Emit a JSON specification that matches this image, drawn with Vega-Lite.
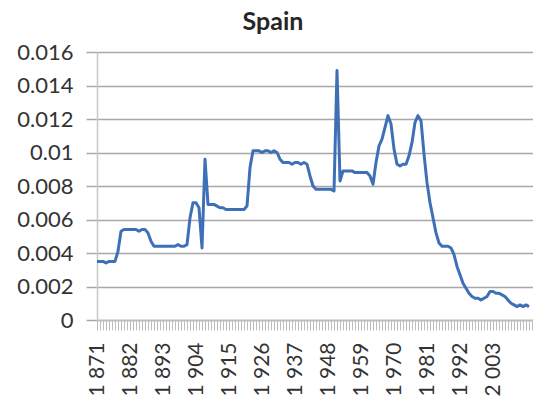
{
  "$schema": "https://vega.github.io/schema/vega-lite/v6.json",
  "width": 436,
  "height": 268,
  "autosize": {"type": "none"},
  "padding": {"left": 97, "top": 52, "right": 0, "bottom": 92},
  "background": "white",
  "title": {
    "text": "Spain",
    "font": "Lato",
    "fontSize": 25,
    "fontWeight": "bold",
    "color": "#262626",
    "anchor": "middle",
    "dx": -42,
    "offset": 6
  },
  "config": {
    "view": {"stroke": null},
    "axis": {"labelFont": "Lato", "labelColor": "#333333"}
  },
  "data": {
    "values": [
      {"year": 1871, "v": 0.0035}, {"year": 1872, "v": 0.0035}, {"year": 1873, "v": 0.0035},
      {"year": 1874, "v": 0.0034}, {"year": 1875, "v": 0.0035}, {"year": 1876, "v": 0.0035},
      {"year": 1877, "v": 0.0035}, {"year": 1878, "v": 0.0041}, {"year": 1879, "v": 0.0053},
      {"year": 1880, "v": 0.0054}, {"year": 1881, "v": 0.0054}, {"year": 1882, "v": 0.0054},
      {"year": 1883, "v": 0.0054}, {"year": 1884, "v": 0.0054}, {"year": 1885, "v": 0.0053},
      {"year": 1886, "v": 0.0054}, {"year": 1887, "v": 0.0054}, {"year": 1888, "v": 0.0052},
      {"year": 1889, "v": 0.0047}, {"year": 1890, "v": 0.0044}, {"year": 1891, "v": 0.0044},
      {"year": 1892, "v": 0.0044}, {"year": 1893, "v": 0.0044}, {"year": 1894, "v": 0.0044},
      {"year": 1895, "v": 0.0044}, {"year": 1896, "v": 0.0044}, {"year": 1897, "v": 0.0044},
      {"year": 1898, "v": 0.0045}, {"year": 1899, "v": 0.0044}, {"year": 1900, "v": 0.0044},
      {"year": 1901, "v": 0.0045}, {"year": 1902, "v": 0.0061}, {"year": 1903, "v": 0.0070},
      {"year": 1904, "v": 0.0070}, {"year": 1905, "v": 0.0067}, {"year": 1906, "v": 0.0043},
      {"year": 1907, "v": 0.0096}, {"year": 1908, "v": 0.0069}, {"year": 1909, "v": 0.0069},
      {"year": 1910, "v": 0.0069}, {"year": 1911, "v": 0.0068}, {"year": 1912, "v": 0.0067},
      {"year": 1913, "v": 0.0067}, {"year": 1914, "v": 0.0066}, {"year": 1915, "v": 0.0066},
      {"year": 1916, "v": 0.0066}, {"year": 1917, "v": 0.0066}, {"year": 1918, "v": 0.0066},
      {"year": 1919, "v": 0.0066}, {"year": 1920, "v": 0.0066}, {"year": 1921, "v": 0.0068},
      {"year": 1922, "v": 0.0091}, {"year": 1923, "v": 0.0101}, {"year": 1924, "v": 0.0101},
      {"year": 1925, "v": 0.0101}, {"year": 1926, "v": 0.0100}, {"year": 1927, "v": 0.0101},
      {"year": 1928, "v": 0.0101}, {"year": 1929, "v": 0.0100}, {"year": 1930, "v": 0.0101},
      {"year": 1931, "v": 0.0100}, {"year": 1932, "v": 0.0096}, {"year": 1933, "v": 0.0094},
      {"year": 1934, "v": 0.0094}, {"year": 1935, "v": 0.0094}, {"year": 1936, "v": 0.0093},
      {"year": 1937, "v": 0.0094}, {"year": 1938, "v": 0.0094}, {"year": 1939, "v": 0.0093},
      {"year": 1940, "v": 0.0094}, {"year": 1941, "v": 0.0093}, {"year": 1942, "v": 0.0086},
      {"year": 1943, "v": 0.0080}, {"year": 1944, "v": 0.0078}, {"year": 1945, "v": 0.0078},
      {"year": 1946, "v": 0.0078}, {"year": 1947, "v": 0.0078}, {"year": 1948, "v": 0.0078},
      {"year": 1949, "v": 0.0078}, {"year": 1950, "v": 0.0077}, {"year": 1951, "v": 0.0149},
      {"year": 1952, "v": 0.0083}, {"year": 1953, "v": 0.0089}, {"year": 1954, "v": 0.0089},
      {"year": 1955, "v": 0.0089}, {"year": 1956, "v": 0.0089}, {"year": 1957, "v": 0.0088},
      {"year": 1958, "v": 0.0088}, {"year": 1959, "v": 0.0088}, {"year": 1960, "v": 0.0088},
      {"year": 1961, "v": 0.0088}, {"year": 1962, "v": 0.0086}, {"year": 1963, "v": 0.0081},
      {"year": 1964, "v": 0.0094}, {"year": 1965, "v": 0.0104}, {"year": 1966, "v": 0.0108},
      {"year": 1967, "v": 0.0115}, {"year": 1968, "v": 0.0122}, {"year": 1969, "v": 0.0117},
      {"year": 1970, "v": 0.0102}, {"year": 1971, "v": 0.0093}, {"year": 1972, "v": 0.0092},
      {"year": 1973, "v": 0.0093}, {"year": 1974, "v": 0.0093}, {"year": 1975, "v": 0.0098},
      {"year": 1976, "v": 0.0106}, {"year": 1977, "v": 0.0118}, {"year": 1978, "v": 0.0122},
      {"year": 1979, "v": 0.0119}, {"year": 1980, "v": 0.0099}, {"year": 1981, "v": 0.0082},
      {"year": 1982, "v": 0.0070}, {"year": 1983, "v": 0.0061}, {"year": 1984, "v": 0.0052},
      {"year": 1985, "v": 0.0046}, {"year": 1986, "v": 0.0044}, {"year": 1987, "v": 0.0044},
      {"year": 1988, "v": 0.0044}, {"year": 1989, "v": 0.0043}, {"year": 1990, "v": 0.0039},
      {"year": 1991, "v": 0.0032}, {"year": 1992, "v": 0.0027}, {"year": 1993, "v": 0.0022},
      {"year": 1994, "v": 0.0019}, {"year": 1995, "v": 0.0016}, {"year": 1996, "v": 0.0014},
      {"year": 1997, "v": 0.0013}, {"year": 1998, "v": 0.0013}, {"year": 1999, "v": 0.0012},
      {"year": 2000, "v": 0.0013}, {"year": 2001, "v": 0.0014}, {"year": 2002, "v": 0.0017},
      {"year": 2003, "v": 0.0017}, {"year": 2004, "v": 0.0016}, {"year": 2005, "v": 0.0016},
      {"year": 2006, "v": 0.0015}, {"year": 2007, "v": 0.0014}, {"year": 2008, "v": 0.0012},
      {"year": 2009, "v": 0.0010}, {"year": 2010, "v": 0.0009}, {"year": 2011, "v": 0.0008},
      {"year": 2012, "v": 0.0009}, {"year": 2013, "v": 0.0008}, {"year": 2014, "v": 0.0009},
      {"year": 2015, "v": 0.0008}
    ]
  },
  "mark": {"type": "line", "color": "#3E6FB7", "strokeWidth": 3, "strokeJoin": "round", "clip": true},
  "encoding": {
    "x": {
      "field": "year",
      "type": "quantitative",
      "scale": {"domain": [1871, 2016.33], "nice": false, "zero": false},
      "axis": {
        "title": null,
        "grid": false,
        "values": [1871,1872,1873,1874,1875,1876,1877,1878,1879,1880,1881,1882,1883,1884,1885,1886,1887,1888,1889,1890,1891,1892,1893,1894,1895,1896,1897,1898,1899,1900,1901,1902,1903,1904,1905,1906,1907,1908,1909,1910,1911,1912,1913,1914,1915,1916,1917,1918,1919,1920,1921,1922,1923,1924,1925,1926,1927,1928,1929,1930,1931,1932,1933,1934,1935,1936,1937,1938,1939,1940,1941,1942,1943,1944,1945,1946,1947,1948,1949,1950,1951,1952,1953,1954,1955,1956,1957,1958,1959,1960,1961,1962,1963,1964,1965,1966,1967,1968,1969,1970,1971,1972,1973,1974,1975,1976,1977,1978,1979,1980,1981,1982,1983,1984,1985,1986,1987,1988,1989,1990,1991,1992,1993,1994,1995,1996,1997,1998,1999,2000,2001,2002,2003,2004,2005,2006,2007,2008,2009,2010,2011,2012,2013,2014,2015,2016],
        "labelExpr": "(datum.value - 1871) % 11 == 0 && datum.value <= 2003 ? slice(toString(datum.value), 0, 1) + ' ' + slice(toString(datum.value), 1) : ''",
        "labelOverlap": false,
        "labelAngle": -90,
        "labelFontSize": 21,
        "labelPadding": 12,
        "labelFlush": false,
        "tickSize": 10,
        "tickColor": "#BDBDBD",
        "tickWidth": 1,
        "domainColor": "#BDBDBD",
        "domainWidth": 1.5
      }
    },
    "y": {
      "field": "v",
      "type": "quantitative",
      "scale": {"domain": [0, 0.016], "nice": false},
      "axis": {
        "title": null,
        "values": [0, 0.002, 0.004, 0.006, 0.008, 0.01, 0.012, 0.014, 0.016],
        "labelExpr": "toString(datum.value)",
        "labelFontSize": 22,
        "labelPadding": 13,
        "labelFlush": false,
        "tickSize": 11,
        "tickColor": "#A8A8A8",
        "tickWidth": 1.5,
        "grid": true,
        "gridColor": "#A8A8A8",
        "gridWidth": 1.5,
        "domainColor": "#C8C8C8",
        "domainWidth": 1.5
      }
    }
  }
}
